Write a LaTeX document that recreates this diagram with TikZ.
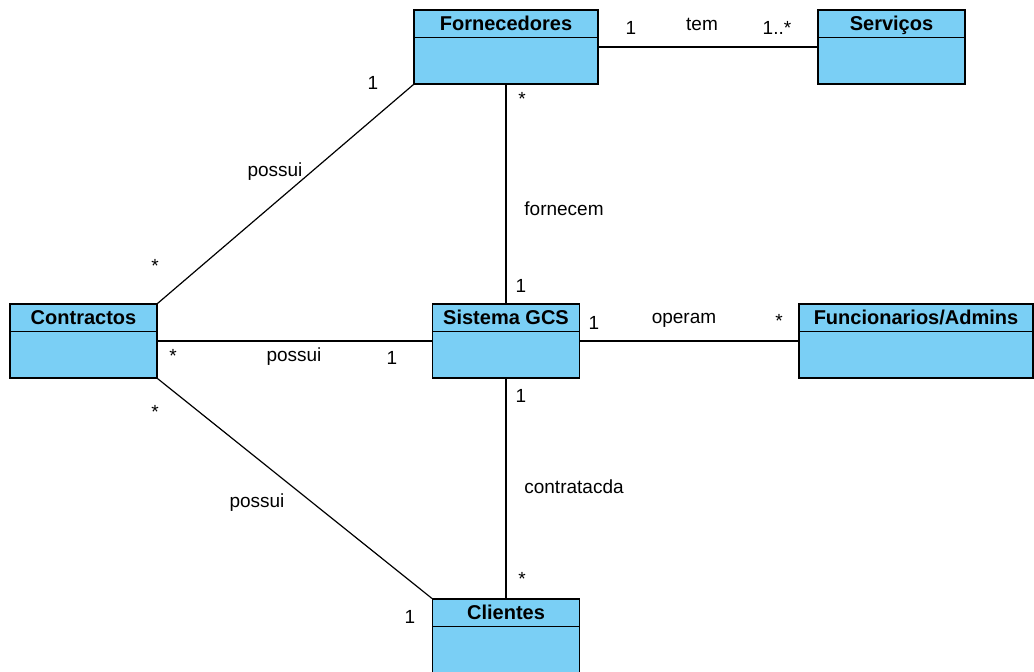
\documentclass[tikz,border=0pt]{standalone}
\usepackage{fontspec}
\setmainfont{Liberation Sans}
\usetikzlibrary{positioning}

\definecolor{classblue}{RGB}{122,207,245}

\tikzset{
  classbox/.style = {draw, fill = classblue, line width = 1.2pt,
    inner sep = 0pt, minimum height = 74pt},
  classname/.style = {font = \fontsize{20}{20}\selectfont\bfseries, inner sep = 0pt,
    anchor = base},
  assoc/.style = {line width = 1.2pt},
  mult/.style = {font = \fontsize{19}{19}\selectfont, inner sep = 0pt}
}

\begin{document}
\begin{tikzpicture}[x = 1pt, y = -1pt]
  \useasboundingbox (0,0) rectangle (1034,672);

  % draws the classes
  \foreach \name/\x/\y/\w/\title in {forn/506/47/184/Fornecedores,
      serv/891.5/47/147/Serviços, contr/83.5/341/147/Contractos,
      sist/506/341/147/Sistema GCS, func/916/341/234/{Funcionarios/Admins},
      cli/506/636/147/Clientes}
  {
    \node[classbox, minimum width = \w pt] (\name) at (\x,\y) {};
    \node[classname] (\name-title) at ([yshift = -21pt]\name.north) {\title};
    \draw[line width = 1.2pt]
      ([yshift = -28pt]\name.north west) -- ([yshift = -28pt]\name.north east);
  }

  % draws the associations
  \draw[assoc] (forn) -- (serv);
  \draw[assoc] (forn) -- (sist);
  \draw[assoc] (forn.south west) -- (contr.north east);
  \draw[assoc] (contr) -- (sist);
  \draw[assoc] (sist) -- (func);
  \draw[assoc] (sist) -- (cli);
  \draw[assoc] (contr.south east) -- (cli.north west);

  % draws the labels and multiplicities
  \foreach \name/\x/\y/\text in {m-fs-a/631/28/1, l-tem/702/24/tem, m-fs-b/777/28/1..*,
      m-fc-a/373/83/1, l-fc/275/172/possui, m-fc-b/155/266/*,
      m-fg-a/522/99/*, l-fg/564/209/fornecem, m-fg-b/521/286/1,
      m-cg-a/173/356/*, l-cg/294/357/possui, m-cg-b/392/358/1,
      m-gf-a/594/323/1, l-gf/684/320/operam, m-gf-b/779/321/*,
      m-gl-a/521/396/1, l-gl/574/487/contratacda, m-gl-b/522/579/*,
      m-cl-a/155/412/*, l-cl/257/503/possui, m-cl-b/410/617/1}
    \node[mult] (\name) at (\x,\y) {\text};
\end{tikzpicture}
\end{document}
